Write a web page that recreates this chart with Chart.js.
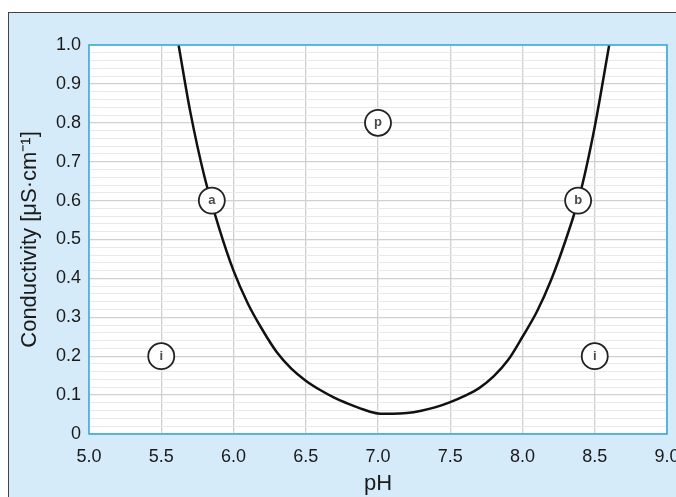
<!DOCTYPE html>
<html>
<head>
<meta charset="utf-8">
<script src="https://cdn.jsdelivr.net/npm/chart.js@4"></script>
<style>
  html, body { margin: 0; padding: 0; overflow: hidden; background: #fff; }
  #frame {
    position: absolute; left: 8px; top: 12px; width: 700px; height: 500px;
    background: #d5ebf9; border-top: 1.5px solid #444; border-left: 1.5px solid #444;
  }
  #wrap { position: absolute; left: 0; top: 0; width: 700px; height: 497px; }
</style>
</head>
<body>
<div id="frame"></div>
<div id="wrap"><canvas id="chart" width="700" height="497"></canvas></div>
<script>
// curve
const curvePh   = [5.62, 5.70, 5.80, 5.90, 6.00, 6.10, 6.20, 6.30, 6.40, 6.50, 6.60, 6.70, 6.80, 6.90, 7.00, 7.10, 7.20, 7.30, 7.40, 7.50, 7.60, 7.70, 7.80, 7.90, 8.00, 8.10, 8.20, 8.30, 8.40, 8.50, 8.60];
const curveCond = [1.00, 0.83, 0.66, 0.53, 0.42, 0.335, 0.268, 0.21, 0.168, 0.137, 0.113, 0.093, 0.077, 0.063, 0.053, 0.052, 0.054, 0.060, 0.069, 0.082, 0.098, 0.118, 0.148, 0.19, 0.25, 0.315, 0.398, 0.50, 0.62, 0.79, 1.00];

// circled region markers
const markerLabels = ['a', 'b', 'p', 'i', 'i'];
const markerPh     = [5.85, 8.385, 7.0, 5.5, 8.5];
const markerCond   = [0.6, 0.6, 0.8, 0.2, 0.2];

const plotArea = {
  id: 'plotArea',
  beforeDraw(chart) {
    const { ctx, chartArea: a } = chart;
    ctx.save();
    ctx.fillStyle = '#ffffff';
    ctx.fillRect(a.left, a.top, a.right - a.left, a.bottom - a.top);
    ctx.restore();
  },
  afterDraw(chart) {
    const { ctx, chartArea: a } = chart;
    ctx.save();
    ctx.strokeStyle = '#2fa8e0';
    ctx.lineWidth = 1.5;
    ctx.strokeRect(a.left, a.top, a.right - a.left, a.bottom - a.top);
    ctx.restore();
  }
};

const markerText = {
  id: 'markerText',
  afterDatasetsDraw(chart) {
    const { ctx } = chart;
    const meta = chart.getDatasetMeta(1);
    ctx.save();
    ctx.fillStyle = '#4a4a4a';
    ctx.font = 'bold 13px "Liberation Sans", Arial, sans-serif';
    ctx.textAlign = 'center';
    ctx.textBaseline = 'middle';
    meta.data.forEach((pt, i) => ctx.fillText(markerLabels[i], pt.x, pt.y));
    ctx.restore();
  }
};

const fontFam = '"Liberation Sans", Arial, sans-serif';
const textColor = '#1a1a1a';

new Chart(document.getElementById('chart'), {
  type: 'scatter',
  data: {
    datasets: [{
      type: 'line',
      order: 2,
      data: curvePh.map((x, i) => ({ x, y: curveCond[i] })),
      borderColor: '#111',
      borderWidth: 2.5,
      pointRadius: 0,
      cubicInterpolationMode: 'monotone',
      fill: false
    }, {
      order: 1,
      data: markerPh.map((x, i) => ({ x, y: markerCond[i] })),
      pointRadius: 13,
      pointBackgroundColor: '#fff',
      pointBorderColor: '#222',
      pointBorderWidth: 1.8
    }]
  },
  options: {
    responsive: false,
    animation: false,
    layout: { padding: { left: 0, right: 33, top: 45, bottom: 0 } },
    plugins: {
      legend: { display: false },
      tooltip: { enabled: false }
    },
    scales: {
      x: {
        type: 'linear',
        min: 5, max: 9,
        border: { display: false },
        grid: { color: '#d0d0d0', lineWidth: 1.3, drawTicks: false },
        ticks: {
          stepSize: 0.5,
          padding: 12,
          color: textColor,
          font: { family: fontFam, size: 18 },
          maxRotation: 0,
          callback: v => v.toFixed(1)
        },
        title: {
          display: true, text: 'pH', color: textColor,
          font: { family: fontFam, size: 22 },
          padding: { top: 4, bottom: 0 }
        },
        afterFit: s => { s.height = 63; }
      },
      y: {
        min: 0, max: 1,
        border: { display: false },
        grid: {
          drawTicks: false,
          color: ctx => (Math.round(ctx.tick.value * 50) % 5 === 0 ? '#d0d0d0' : '#e9e9e9'),
          lineWidth: ctx => (Math.round(ctx.tick.value * 50) % 5 === 0 ? 1.3 : 1)
        },
        ticks: {
          stepSize: 0.02,
          autoSkip: false,
          padding: 8,
          color: textColor,
          font: { family: fontFam, size: 18 },
          callback: v => {
            const k = Math.round(v * 50);
            if (k % 5 !== 0) return '';
            return k === 0 ? '0' : (k / 50).toFixed(1);
          }
        },
        title: {
          display: true, text: 'Conductivity [μS·cm⁻¹]', color: textColor,
          font: { family: fontFam, size: 22 },
          padding: { top: 17, bottom: 0 }
        },
        afterFit: s => { s.width = 89; }
      }
    }
  },
  plugins: [plotArea, markerText]
});
</script>
</body>
</html>
